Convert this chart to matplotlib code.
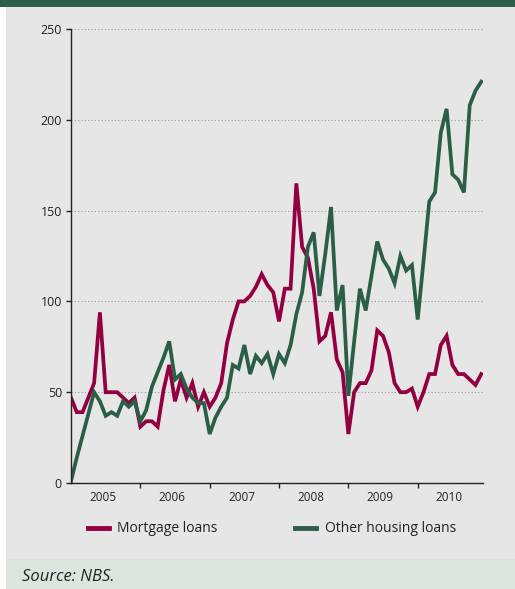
import matplotlib
matplotlib.use("Agg")
import matplotlib.pyplot as plt
from matplotlib.patches import Rectangle

plt.rcParams["font.family"] = ["Open Sans", "DejaVu Sans"]

# Monthly new housing loans, Jan 2005 - Dec 2010
years = ["2005", "2006", "2007", "2008", "2009", "2010"]
mortgage = [47, 39, 39, 47, 55, 94, 50, 50, 50, 47, 44, 47,
            31, 34, 34, 31, 51, 65, 45, 57, 47, 55, 42, 50,
            42, 47, 55, 77, 90, 100, 100, 103, 108, 115, 109, 105,
            89, 107, 107, 165, 130, 124, 107, 78, 81, 94, 68, 61,
            27, 50, 55, 55, 62, 84, 81, 72, 55, 50, 50, 52,
            42, 50, 60, 60, 76, 81, 65, 60, 60, 57, 54, 60]
other = [1, 14, 26, 38, 50, 45, 37, 39, 37, 45, 42, 45,
         34, 40, 53, 61, 69, 78, 57, 60, 52, 47, 44, 44,
         27, 36, 42, 47, 65, 63, 76, 60, 70, 66, 71, 60,
         71, 66, 76, 93, 105, 130, 138, 103, 126, 152, 95, 109,
         48, 78, 107, 95, 114, 133, 123, 118, 110, 125, 117, 120,
         90, 122, 155, 160, 193, 206, 170, 167, 160, 208, 216, 221]

red = "#930041"
green = "#2b5e47"
panel = "#e6e6e6"

fig = plt.figure(figsize=(5.15, 5.89), dpi=100)
fig.patch.set_facecolor("white")

# header bar, grey panel and source strip
fig.add_artist(Rectangle((0, 1 - 7 / 589), 1, 7 / 589, transform=fig.transFigure,
                         facecolor=green, edgecolor="none", zorder=0))
fig.add_artist(Rectangle((6 / 515, 30 / 589), 1, 552 / 589, transform=fig.transFigure,
                         facecolor=panel, edgecolor="none", zorder=0))
fig.add_artist(Rectangle((6 / 515, 0), 1, 30 / 589, transform=fig.transFigure,
                         facecolor="#dce4e0", edgecolor="none", zorder=0))

ax = fig.add_axes([71 / 515, 1 - 483 / 589, 412 / 515, 454 / 589])
ax.set_facecolor("none")

x = list(range(len(mortgage)))
ax.plot(x, mortgage, color=red, lw=2.7, solid_joinstyle="miter", label="Mortgage loans")
ax.plot(x, other, color=green, lw=2.7, solid_joinstyle="miter", label="Other housing loans")

ax.set_xlim(0, 71.3)
ax.set_ylim(0, 250)
ax.set_yticks([0, 50, 100, 150, 200, 250])
ax.yaxis.grid(True, linestyle=(0, (1, 2)), color="#999999", lw=0.8)
ax.set_axisbelow(True)

ax.set_xticks([12, 24, 36, 48, 60])
ax.set_xticklabels([])
ax.set_xticks([5.5 + 12 * i for i in range(len(years))], minor=True)
ax.set_xticklabels(years, minor=True)
ax.tick_params(axis="x", which="minor", length=0, pad=6, labelsize=8.5, colors="#222222")
ax.tick_params(axis="x", which="major", length=3.5, width=1, direction="out", color="#222222")
ax.tick_params(axis="y", length=3.5, width=1, direction="out", pad=3,
               labelsize=9, colors="#222222")

for side in ["top", "right"]:
    ax.spines[side].set_visible(False)
for side in ["left", "bottom"]:
    ax.spines[side].set_color("#222222")
    ax.spines[side].set_linewidth(1)

leg = fig.legend(loc="center", bbox_to_anchor=(0.528, 1 - 529 / 589), ncol=2,
                 frameon=False, fontsize=10, handlelength=1.5, columnspacing=5.6,
                 handletextpad=0.6)
for line in leg.get_lines():
    line.set_linewidth(3.5)
for t in leg.get_texts():
    t.set_color("#222222")

fig.text(22 / 515, 1 - 577 / 589, "Source: NBS.", fontsize=12, style="italic",
         color="#222222", va="center", ha="left")

fig.savefig("out.png", dpi=100)
